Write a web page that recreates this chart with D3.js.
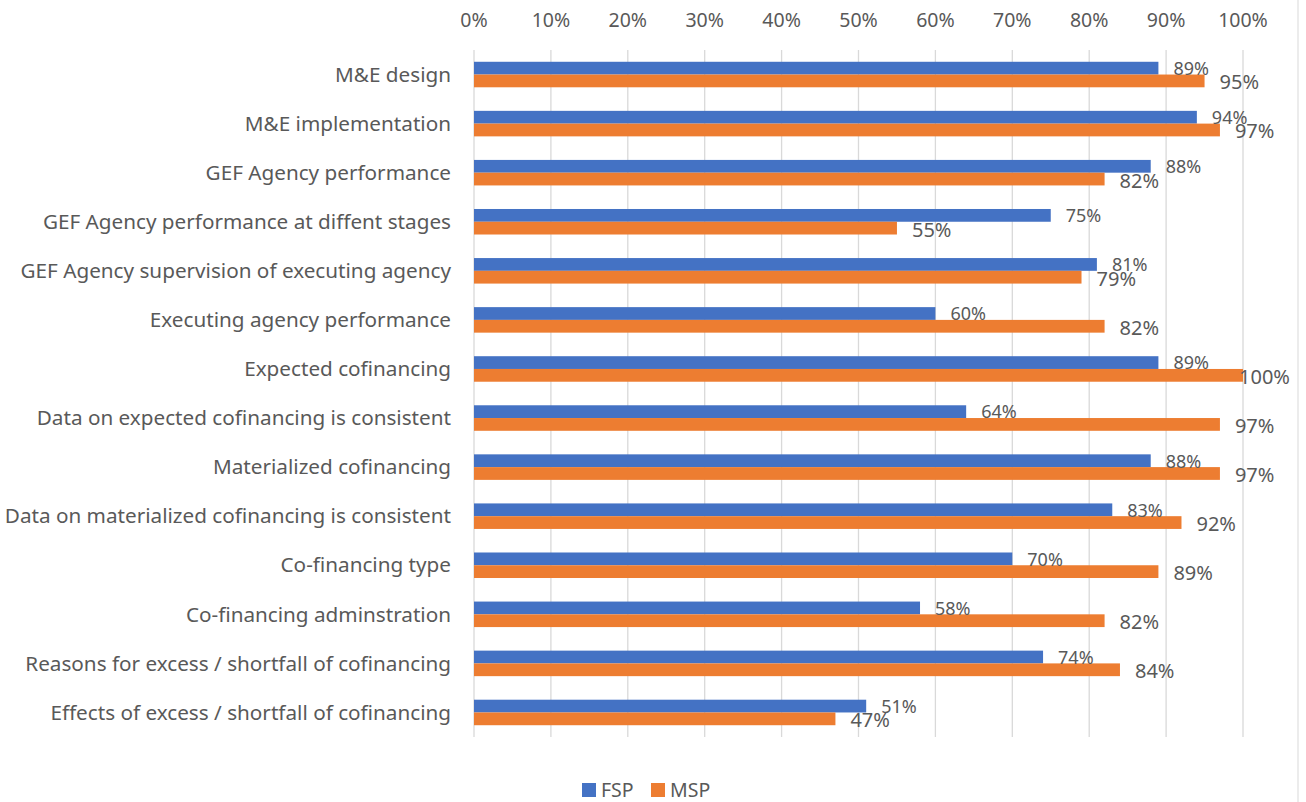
<!DOCTYPE html>
<html>
<head>
<meta charset="utf-8">
<script src="https://cdn.jsdelivr.net/npm/d3@7"></script>
<style>
  body { margin: 0; background: #fff; }
  svg text { font-family: "Noto Sans", "Open Sans", sans-serif; fill: #595959; }
</style>
</head>
<body>
<div class="chart"></div>
<script>
var categories = [
  "M&E design",
  "M&E implementation",
  "GEF Agency performance",
  "GEF Agency performance at diffent stages",
  "GEF Agency supervision of executing agency",
  "Executing agency performance",
  "Expected cofinancing",
  "Data on expected cofinancing is consistent",
  "Materialized cofinancing",
  "Data on materialized cofinancing is consistent",
  "Co-financing type",
  "Co-financing adminstration",
  "Reasons for excess / shortfall of cofinancing",
  "Effects of excess / shortfall of cofinancing"
]
var fsp = [89, 94, 88, 75, 81, 60, 89, 64, 88, 83, 70, 58, 74, 51]
var msp = [95, 97, 82, 55, 79, 82, 100, 97, 97, 92, 89, 82, 84, 47]
var ticks = [0, 10, 20, 30, 40, 50, 60, 70, 80, 90, 100]
var seriesNames = ["FSP", "MSP"]
var colours = ["#4472C4", "#ED7D31"]

var width = 1306, height = 802

var svg = d3.select(".chart").append("svg")
  .attr("width", width)
  .attr("height", height)

var x = d3.scaleLinear().domain([0, 100]).range([474, 1243])
var y = d3.scaleBand().domain(categories).range([50, 737]).paddingInner(0.48).paddingOuter(0.24)
var sub = d3.scaleBand().domain(seriesNames).range([0, y.bandwidth()])

// chart border on the right
svg.append("line")
  .attr("x1", 1298).attr("x2", 1298).attr("y1", 0).attr("y2", height)
  .attr("stroke", "#d9d9d9").attr("stroke-width", 1)

// gridlines + tick labels
svg.append("g").selectAll("line")
  .data(ticks)
  .enter()
  .append("line")
  .attr("x1", d => x(d)).attr("x2", d => x(d))
  .attr("y1", 50).attr("y2", 737)
  .attr("stroke", "#d9d9d9").attr("stroke-width", 1.3)

svg.append("g").selectAll("text")
  .data(ticks)
  .enter()
  .append("text")
  .attr("x", d => x(d))
  .attr("y", 27)
  .attr("text-anchor", "middle")
  .style("font-size", "19.5px")
  .text(d => d + "%")

// category labels
svg.append("g").selectAll("text")
  .data(categories)
  .enter()
  .append("text")
  .attr("x", 451)
  .attr("y", d => y(d) + y.bandwidth() / 2)
  .attr("dy", "0.35em")
  .attr("text-anchor", "end")
  .style("font-size", "20.7px")
  .text(d => d)

var rows = categories.map((c, i) => ({cat: c, FSP: fsp[i], MSP: msp[i]}))

seriesNames.forEach((s, si) => {
  svg.append("g").selectAll("rect")
    .data(rows)
    .enter()
    .append("rect")
    .attr("x", x(0))
    .attr("y", d => y(d.cat) + sub(s))
    .attr("width", d => x(d[s]) - x(0))
    .attr("height", sub.bandwidth())
    .attr("fill", colours[si])
})

// value labels (FSP smaller, MSP larger); pulled back in if they'd run past the edge
var labelMax = 1290
seriesNames.forEach((s, si) => {
  svg.append("g").selectAll("text")
    .data(rows)
    .enter()
    .append("text")
    .attr("x", d => x(d[s]) + 15)
    .attr("y", d => y(d.cat) + sub(s) + sub.bandwidth() / 2 + (si == 0 ? 0.5 : 1.5))
    .attr("dy", "0.35em")
    .style("font-size", si == 0 ? "18px" : "20px")
    .text(d => d[s] + "%")
    .each(function(d) {
      var w = this.getComputedTextLength()
      var lx = x(d[s]) + 15
      if (lx + w > labelMax) d3.select(this).attr("x", labelMax - w)
    })
})

// legend
var legend = svg.append("g")
var legendX = [582, 651]
seriesNames.forEach((s, i) => {
  legend.append("rect")
    .attr("x", legendX[i]).attr("y", 783)
    .attr("width", 14).attr("height", 14)
    .attr("fill", colours[i])
  legend.append("text")
    .attr("x", legendX[i] + 19).attr("y", 790)
    .attr("dy", "0.35em")
    .style("font-size", "19.5px")
    .text(s)
})
</script>
</body>
</html>
